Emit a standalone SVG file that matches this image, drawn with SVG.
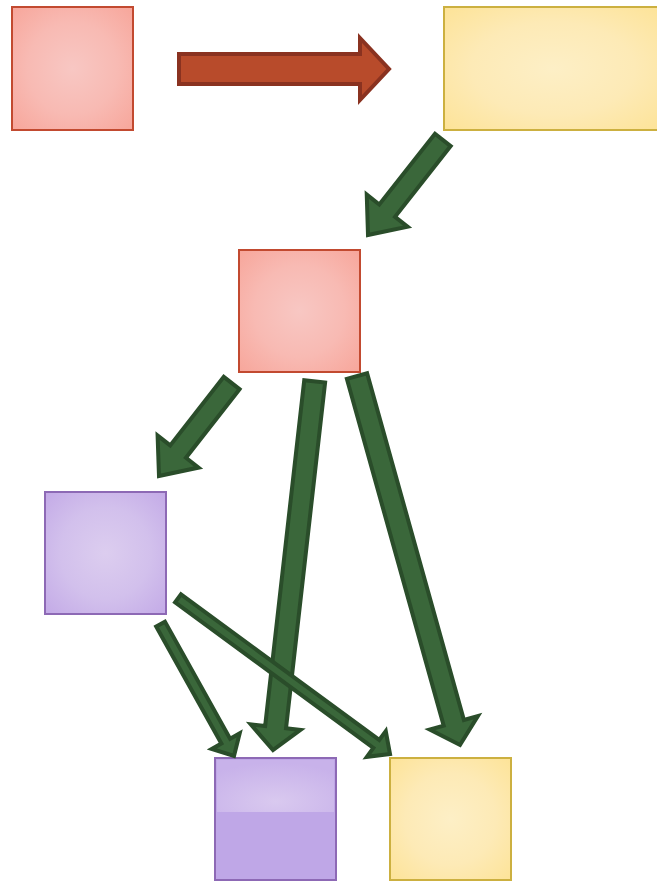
<svg xmlns="http://www.w3.org/2000/svg" width="657" height="882" viewBox="0 0 657 882">
<defs>
<radialGradient id="gRed" cx="0.5" cy="0.5" r="0.75">
<stop offset="0" stop-color="#f8c7c3"/><stop offset="0.5" stop-color="#f8bab3"/><stop offset="1" stop-color="#f7a397"/>
</radialGradient>
<radialGradient id="gYel" cx="0.5" cy="0.5" r="0.75">
<stop offset="0" stop-color="#fdefc6"/><stop offset="0.5" stop-color="#fdeab6"/><stop offset="1" stop-color="#fde293"/>
</radialGradient>
<radialGradient id="gPur" cx="0.5" cy="0.5" r="0.75">
<stop offset="0" stop-color="#dccdef"/><stop offset="0.5" stop-color="#d2c0ec"/><stop offset="1" stop-color="#c1a7e6"/>
</radialGradient>
<radialGradient id="gGloss" cx="0.5" cy="0.8" r="0.75">
<stop offset="0" stop-color="#d9c9ef"/><stop offset="1" stop-color="#c8b2ea"/>
</radialGradient>
<style>
.red{fill:url(#gRed);stroke:#c24a30;stroke-width:2}
.yel{fill:url(#gYel);stroke:#ccb040;stroke-width:2}
.pur{fill:url(#gPur);stroke:#8d69b5;stroke-width:2}
.gr{fill:#3a673a;stroke:#2a4d2a;stroke-width:4;stroke-linejoin:miter}
.rd{fill:#b84b2b;stroke:#8a3220;stroke-width:4}
</style>
</defs>
<g id="n1"><rect class="red" x="12" y="7" width="121" height="123"/></g>
<g id="n2"><rect class="yel" x="444" y="7" width="218" height="123"/></g>
<g id="n3"><rect class="red" x="239" y="250" width="121" height="122"/></g>
<g id="n4"><rect class="pur" x="45" y="492" width="121" height="122"/></g>
<g id="n5">
<rect x="215" y="758" width="121" height="122" fill="#bfa7e7" stroke="#8d69b5" stroke-width="2"/>
<rect x="217" y="760" width="117" height="52" fill="url(#gGloss)"/>
</g>
<g id="n6"><rect class="yel" x="390" y="758" width="121" height="122"/></g>
<g id="connectors">
<polygon class="rd" points="179,54 360,54 360,38 389,69 360,100 360,84 179,84"/>
<polygon class="gr" transform="translate(368,235) rotate(128.2)" points="-121,-10 -31,-10 -31,-26 0,0 -31,26 -31,10 -121,10"/>
<polygon class="gr" transform="translate(159,476) rotate(128)" points="-118,-10 -31,-10 -31,-26 0,0 -31,26 -31,10 -118,10"/>
<polygon class="gr" transform="translate(273,750) rotate(96.45)" points="-371,-10.5 -23,-10.5 -23,-25 0,0 -23,25 -23,10.5 -371,10.5"/>
<polygon class="gr" transform="translate(460,745) rotate(74.4)" points="-383,-10.5 -23,-10.5 -23,-25 0,0 -23,25 -23,10.5 -383,10.5"/>
<polygon class="gr" transform="translate(234,756) rotate(60.9)" points="-151,-5 -17,-5 -17,-16 0,0 -17,16 -17,5 -151,5"/>
<polygon class="gr" transform="translate(390,754) rotate(36.3)" points="-263,-5 -17,-5 -17,-16 0,0 -17,16 -17,5 -263,5"/>
</g>
</svg>
